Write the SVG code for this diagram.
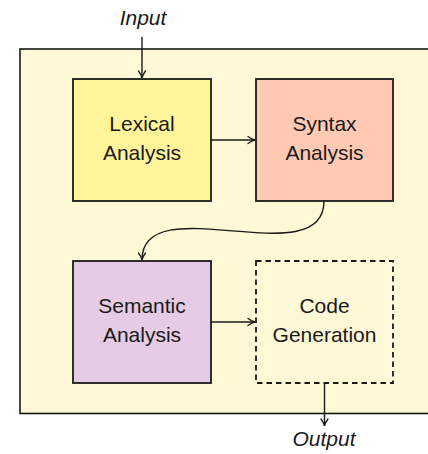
<svg xmlns="http://www.w3.org/2000/svg" width="428" height="454" viewBox="0 0 428 454">
<style>
text{font-family:"Liberation Sans",Arial,sans-serif;font-size:21px;fill:#1a1a1a;text-anchor:middle}
.it{font-style:italic}
.box{stroke:#1a1a1a;stroke-width:1.8}
.conn{fill:none;stroke:#1a1a1a;stroke-width:1.4;marker-end:url(#arr)}
</style>
<defs>
<marker id="arr" viewBox="0 0 10 10" refX="9" refY="5" markerWidth="10" markerHeight="10" markerUnits="userSpaceOnUse" orient="auto">
<path d="M2,1.5 Q6,4.5 9,5 Q6,5.5 2,8.5" fill="none" stroke="#1a1a1a" stroke-width="1.3" stroke-linecap="round"/>
</marker>
</defs>
<g id="container">
<rect x="20" y="49" width="420" height="364.5" fill="#fef8d6" stroke="#1a1a1a" stroke-width="1.6"/>
</g>
<g id="lexical">
<rect class="box" x="73" y="79" width="138" height="122" fill="#fff49a"/>
<text x="142" y="131">Lexical</text>
<text x="142" y="160">Analysis</text>
</g>
<g id="syntax">
<rect class="box" x="256" y="79" width="137" height="122" fill="#ffc9b3"/>
<text x="324.5" y="131">Syntax</text>
<text x="324.5" y="160">Analysis</text>
</g>
<g id="semantic">
<rect class="box" x="73" y="261" width="138" height="122" fill="#e5cbe4"/>
<text x="142" y="313">Semantic</text>
<text x="142" y="342">Analysis</text>
</g>
<g id="codegen">
<rect class="box" x="256" y="261" width="137" height="122" fill="none" stroke-dasharray="5.5 4"/>
<text x="324.5" y="313">Code</text>
<text x="324.5" y="342">Generation</text>
</g>
<g id="input">
<text class="it" x="143" y="25">Input</text>
</g>
<g id="output">
<text class="it" x="324" y="446">Output</text>
</g>
<g id="connectors">
<path class="conn" d="M142,37 L142,78"/>
<path class="conn" d="M211,140 L255,140"/>
<path class="conn" d="M324,201 C324,276 142,186 142,260"/>
<path class="conn" d="M211,322 L255,322"/>
<path class="conn" d="M324.5,383 L324.5,426"/>
</g>
</svg>
